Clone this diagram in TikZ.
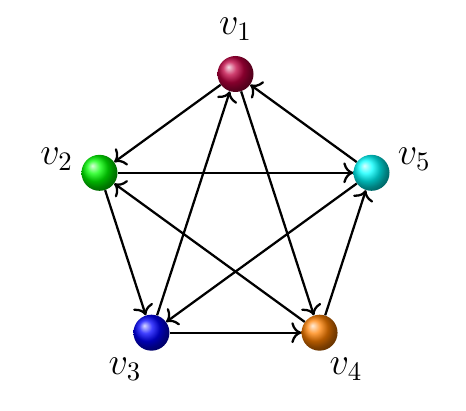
\documentclass[tikz,border=0pt]{standalone}
\usepackage{amsmath}
\usepackage{xcolor}
\usepackage{tikz}
\usetikzlibrary{arrows.meta}

\begin{document}
\begin{tikzpicture}[x=0.75pt, y=0.75pt,
    vertex/.style={circle, minimum size=27pt, inner sep=0pt},
    vlabel/.style={font=\Large, scale=2, inner sep=0pt},
    arc/.style={-{To[scale=1.4]}, line width=1.7pt}]
    \useasboundingbox (-235.5,-193) rectangle (230.5,217);

    % vertices
    \node[vertex, ball color=purple] (v1) at (90:143) {};
    \node[vertex, ball color=green] (v2) at (162:143) {};
    \node[vertex, ball color=blue] (v3) at (234:143) {};
    \node[vertex, ball color=orange] (v4) at (306:143) {};
    \node[vertex, ball color=cyan] (v5) at (18:143) {};

    % labels
    \foreach \i/\a in {1/90, 2/162, 3/234, 4/306, 5/18}
        \node[vlabel] (l\i) at (\a:188) {$v_{\i}$};

    % edges
    \foreach \s/\t in {1/2, 5/1, 3/1, 1/4, 2/5, 4/2, 2/3, 5/3, 4/5, 3/4}
        \draw[arc] (v\s) -- (v\t);

\end{tikzpicture}
\end{document}
